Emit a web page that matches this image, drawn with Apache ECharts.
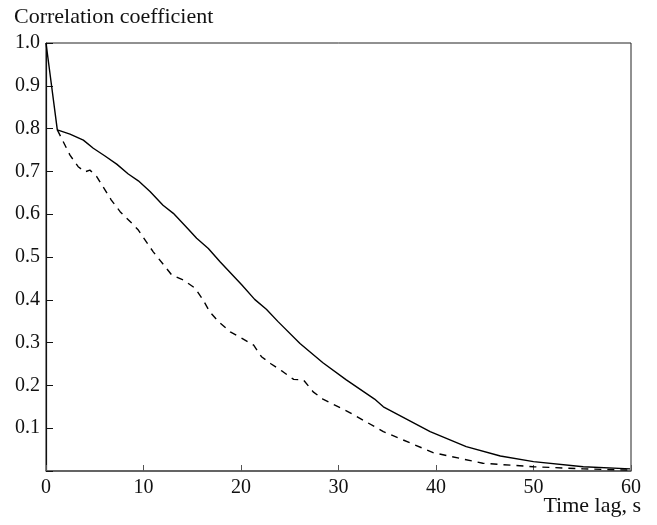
<!DOCTYPE html>
<html>
<head>
<meta charset="utf-8">
<script src="https://cdn.jsdelivr.net/npm/echarts@6/dist/echarts.min.js"></script>
<style>html,body{margin:0;padding:0;background:#fff}#c{width:657px;height:525px}</style>
</head>
<body>
<div id="c"></div>
<script>
// Data
const xTicks = [0, 10, 20, 30, 40, 50, 60];
const yTicks = [0.1, 0.2, 0.3, 0.4, 0.5, 0.6, 0.7, 0.8, 0.9, 1.0];
const solidT = [0, 1.16, 2.46, 3.83, 4.85, 6.05, 7.25, 8.44, 9.47, 10.67, 12.0, 13.06, 14.6, 15.45, 16.65, 17.85, 20.07, 21.4, 22.6, 23.8, 26.05, 28.4, 30.8, 33.7, 34.6, 39.4, 43.1, 46.6, 50.0, 55.1, 59.9];
const solidV = [1.0, 0.797, 0.787, 0.773, 0.754, 0.736, 0.717, 0.694, 0.678, 0.653, 0.621, 0.602, 0.565, 0.544, 0.520, 0.489, 0.435, 0.401, 0.378, 0.349, 0.298, 0.253, 0.213, 0.168, 0.150, 0.092, 0.057, 0.035, 0.022, 0.010, 0.005];
const dashT = [1.16, 2.46, 3.3, 4.0, 4.5, 5.2, 6.7, 7.6, 8.8, 9.47, 11.0, 12.9, 14.1, 15.3, 16.1, 16.8, 17.7, 18.9, 20.1, 21.3, 22.1, 23.1, 24.3, 25.4, 26.4, 27.4, 28.4, 31.2, 34.6, 39.7, 44.8, 50.0, 55.1, 60];
const dashV = [0.797, 0.738, 0.711, 0.699, 0.703, 0.688, 0.633, 0.606, 0.579, 0.563, 0.512, 0.458, 0.446, 0.427, 0.400, 0.372, 0.349, 0.325, 0.310, 0.294, 0.267, 0.250, 0.232, 0.214, 0.213, 0.185, 0.168, 0.136, 0.092, 0.043, 0.018, 0.010, 0.005, 0.002];
const yTitle = 'Correlation coefficient';
const xTitle = 'Time lag, s';

const font = '"Liberation Serif", "Times New Roman", serif';
const chart = echarts.init(document.getElementById('c'), null, {renderer: 'canvas'});
chart.setOption({
  animation: false,
  backgroundColor: '#fff',
  grid: {left: 46, right: 26, top: 43, bottom: 54, show: true, borderColor: '#222', borderWidth: 1, backgroundColor: 'transparent'},
  xAxis: {
    type: 'value', min: 0, max: 60, interval: 10,
    axisLine: {show: true, onZero: false, lineStyle: {color: '#555', width: 1.5}},
    axisTick: {show: true, inside: true, length: 6, lineStyle: {color: '#555'}},
    axisLabel: {color: '#111', fontFamily: font, fontSize: 20, margin: 7,
      formatter: v => xTicks.includes(v) ? String(v) : ''},
    splitLine: {show: false}
  },
  yAxis: {
    type: 'value', min: 0, max: 1, interval: 0.1,
    axisLine: {show: true, lineStyle: {color: '#111', width: 1.2}},
    axisTick: {show: true, inside: true, length: 7, lineStyle: {color: '#111'}},
    axisLabel: {color: '#111', fontFamily: font, fontSize: 20, margin: 6,
      formatter: v => {
        const t = yTicks.find(y => Math.abs(y - v) < 1e-6);
        return t === undefined ? '' : t.toFixed(1);
      }},
    splitLine: {show: false}
  },
  graphic: [
    {type: 'text', left: 14, top: 6, style: {text: yTitle, font: '22px ' + font, fill: '#111'}},
    {type: 'text', right: 16, top: 495, style: {text: xTitle, font: '22px ' + font, fill: '#111'}}
  ],
  series: [
    {type: 'line', data: solidT.map((t, i) => [t, solidV[i]]), showSymbol: false, smooth: false,
      lineStyle: {color: '#000', width: 1.4}},
    {type: 'line', data: dashT.map((t, i) => [t, dashV[i]]), showSymbol: false, smooth: false,
      lineStyle: {color: '#000', width: 1.4, type: [7, 6]}}
  ]
});
</script>
</body>
</html>
